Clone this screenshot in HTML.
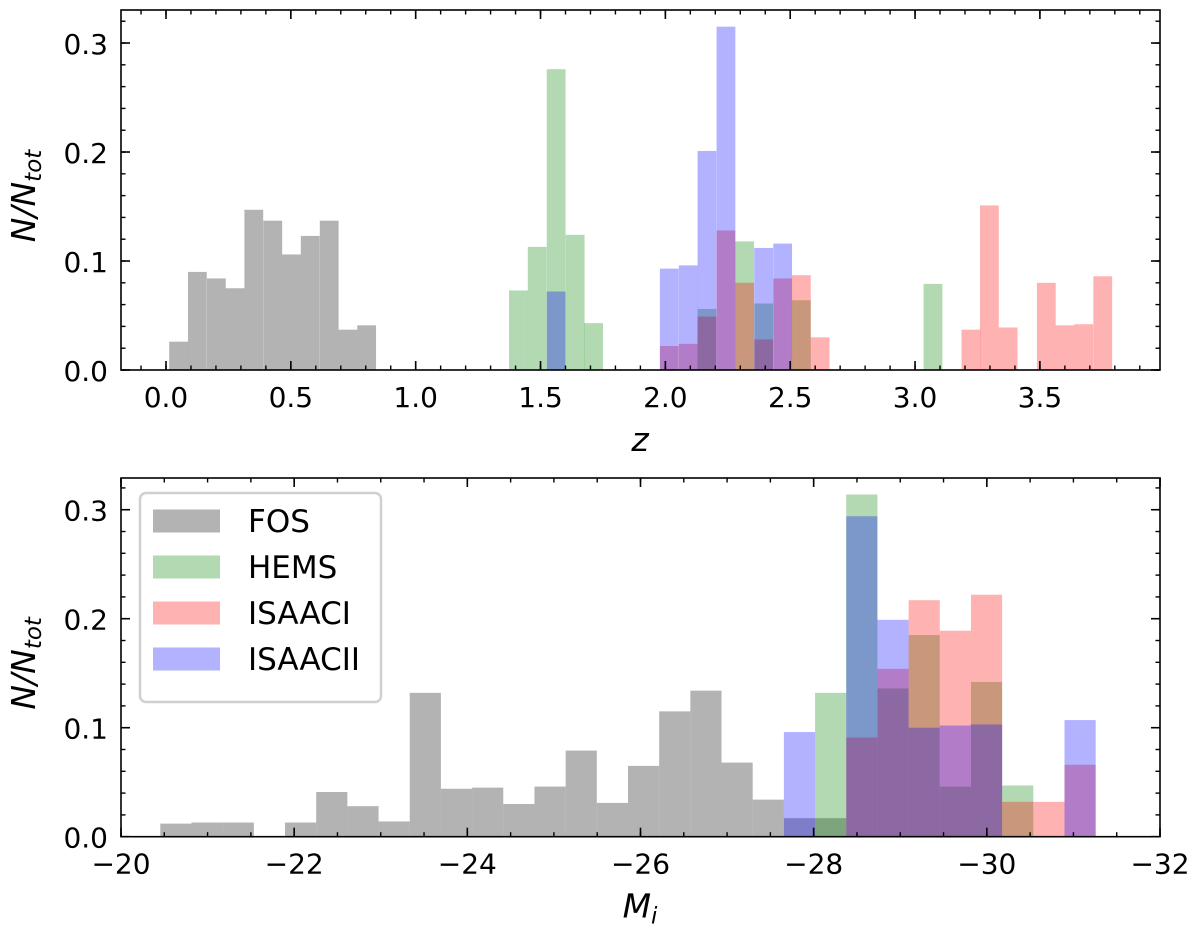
<!DOCTYPE html>
<html><head><meta charset="utf-8"><style>
body{margin:0;background:#fff;}
svg{display:block;font-family:"DejaVu Sans","Liberation Sans",sans-serif;}
</style></head><body>
<svg id="chart" width="1200" height="934" viewBox="0 0 1200 934" xmlns="http://www.w3.org/2000/svg"></svg>
<script>
// ---- Top panel data (redshift z) ----
const topBinWidth = 0.0753;
const fosZLeft = [0.013,0.088,0.164,0.239,0.314,0.390,0.465,0.540,0.616,0.691,0.766];
const fosZ = [0.026,0.090,0.084,0.075,0.147,0.137,0.106,0.123,0.137,0.037,0.041];
const hemsZLeft = [1.374,1.449,1.525,1.601,1.675,2.129,2.280,2.356,2.507,3.034];
const hemsZ = [0.073,0.113,0.276,0.124,0.043,0.056,0.118,0.061,0.064,0.079];
const isaac1ZLeft = [1.978,2.054,2.129,2.205,2.280,2.356,2.432,2.507,2.582,3.186,3.260,3.335,3.488,3.563,3.638,3.714];
const isaac1Z = [0.022,0.024,0.049,0.128,0.080,0.028,0.084,0.087,0.030,0.037,0.151,0.039,0.080,0.041,0.042,0.086];
const isaac2ZLeft = [1.525,1.978,2.054,2.129,2.205,2.356,2.432];
const isaac2Z = [0.072,0.093,0.096,0.201,0.315,0.112,0.116];
const topXTicks = [0.0,0.5,1.0,1.5,2.0,2.5,3.0,3.5];
const topXTickLabels = ["0.0","0.5","1.0","1.5","2.0","2.5","3.0","3.5"];
// ---- Bottom panel data (magnitude M_i), bin index from first edge ----
const botFirstEdge = -20.454;
const botBinWidth = 0.3601;
const fosMIdx = [0,1,2,4,5,6,7,8,9,10,11,12,13,14,15,16,17,18,19,20,21];
const fosM = [0.012,0.013,0.013,0.013,0.041,0.028,0.014,0.132,0.044,0.045,0.030,0.046,0.079,0.031,0.065,0.115,0.134,0.068,0.034,0.017,0.017];
const hemsMIdx = [21,22,23,24,25,26,27];
const hemsM = [0.132,0.314,0.136,0.185,0.046,0.142,0.047];
const isaac1MIdx = [22,23,24,25,26,27,28,29];
const isaac1M = [0.091,0.154,0.217,0.189,0.222,0.032,0.032,0.066];
const isaac2MIdx = [20,22,23,24,25,26,29];
const isaac2M = [0.096,0.294,0.199,0.100,0.102,0.103,0.107];
const botXTicks = [-20,-22,-24,-26,-28,-30,-32];
const botXTickLabels = ["\u221220","\u221222","\u221224","\u221226","\u221228","\u221230","\u221232"];
const yTicks = [0.0,0.1,0.2,0.3];
const yTickLabels = ["0.0","0.1","0.2","0.3"];

const svg = document.getElementById('chart');
const NS = 'http://www.w3.org/2000/svg';
function mk(tag, attrs, parent){const e=document.createElementNS(NS,tag);for(const k in attrs)e.setAttribute(k,attrs[k]);(parent||svg).appendChild(e);return e;}

const L=121, R=1160;
const FS=28, LFS=33;
const topP = {y0:370, y1:10, xmin:-0.1802, xmax:3.981, ymin:0, ymax:0.3303};
const botP = {y0:836.7, y1:478, xmin:-20, xmax:-32, ymin:0, ymax:0.3291};
function xs(p,v){return L+(v-p.xmin)/(p.xmax-p.xmin)*(R-L);}
function ys(p,v){return p.y0-(v-p.ymin)/(p.ymax-p.ymin)*(p.y0-p.y1);}

const colors={fos:['#808080',0.6],hems:['#008000',0.3],isaac1:['#ff0000',0.3],isaac2:['#0000ff',0.3]};

function drawBars(p, lefts, vals, width, key, name){
  const g=mk('g',{});
  
  
  for(let i=0;i<vals.length;i++){
    if(!vals[i])continue;
    const xa=xs(p,lefts[i]), xb=xs(p,lefts[i]+width);
    const yt=ys(p,vals[i]);
    const r=mk('rect',{x:Math.min(xa,xb),y:yt,width:Math.abs(xb-xa),height:p.y0-yt,fill:colors[key][0],'fill-opacity':colors[key][1]},g);
    
    
  }
}
function drawAxes(p, majors, majorLabels, minorStep, xlabelText, xlabelSub, panelName){
  const g=mk('g',{});
  
  
  mk('rect',{x:L,y:p.y1,width:R-L,height:p.y0-p.y1,fill:'none',stroke:'#000','stroke-width':1.6},g);
  const lo=Math.min(p.xmin,p.xmax), hi=Math.max(p.xmin,p.xmax);
  for(let v=Math.ceil(lo/minorStep)*minorStep; v<=hi+1e-9; v+=minorStep){
    const x=xs(p,v);
    mk('line',{x1:x,x2:x,y1:p.y0,y2:p.y0-4.5,stroke:'#000','stroke-width':1.4},g);
    mk('line',{x1:x,x2:x,y1:p.y1,y2:p.y1+4.5,stroke:'#000','stroke-width':1.4},g);
  }
  majors.forEach((v,i)=>{
    const x=xs(p,v);
    mk('line',{x1:x,x2:x,y1:p.y0,y2:p.y0-9,stroke:'#000','stroke-width':1.6},g);
    mk('line',{x1:x,x2:x,y1:p.y1,y2:p.y1+9,stroke:'#000','stroke-width':1.6},g);
    const t=mk('text',{x:x,y:p.y0+37,'font-size':FS,'text-anchor':'middle',fill:'#000'},g);
    t.textContent=majorLabels[i];
    
    
  });
  for(let v=0; v<=p.ymax+1e-9; v+=0.02){
    const y=ys(p,v);
    mk('line',{x1:L,x2:L+4.5,y1:y,y2:y,stroke:'#000','stroke-width':1.4},g);
    mk('line',{x1:R,x2:R-4.5,y1:y,y2:y,stroke:'#000','stroke-width':1.4},g);
  }
  yTicks.forEach((v,i)=>{
    const y=ys(p,v);
    mk('line',{x1:L,x2:L+9,y1:y,y2:y,stroke:'#000','stroke-width':1.6},g);
    mk('line',{x1:R,x2:R-9,y1:y,y2:y,stroke:'#000','stroke-width':1.6},g);
    const t=mk('text',{x:L-13,y:y+11,'font-size':FS,'text-anchor':'end',fill:'#000'},g);
    t.textContent=yTickLabels[i];
    
    
  });
  const xl=mk('text',{x:640,y:p.y0+81,'font-size':LFS,'font-style':'italic','text-anchor':'middle',fill:'#000'},g);
  xl.textContent=xlabelText;
  if(xlabelSub){const s=mk('tspan',{'font-size':23,dy:6},xl);s.textContent=xlabelSub;}
  
  
  const cy=(p.y0+p.y1)/2+6;
  const yl=mk('text',{x:0,y:0,'font-size':LFS,'font-style':'italic','text-anchor':'middle',fill:'#000',transform:`translate(35 ${cy}) rotate(-90)`},g);
  yl.textContent='N/N';
  const s2=mk('tspan',{'font-size':23,dy:6},yl);s2.textContent='tot';
  
  
}

drawBars(topP,fosZLeft,fosZ,topBinWidth,'fos','top-fos');
drawBars(topP,hemsZLeft,hemsZ,topBinWidth,'hems','top-hems');
drawBars(topP,isaac1ZLeft,isaac1Z,topBinWidth,'isaac1','top-isaaci');
drawBars(topP,isaac2ZLeft,isaac2Z,topBinWidth,'isaac2','top-isaacii');
drawAxes(topP,topXTicks,topXTickLabels,0.1,'z',null,'top-panel');

const toLeft = idx => idx.map(i=>botFirstEdge - i*botBinWidth);
drawBars(botP,toLeft(fosMIdx),fosM,-botBinWidth,'fos','bottom-fos');
drawBars(botP,toLeft(hemsMIdx),hemsM,-botBinWidth,'hems','bottom-hems');
drawBars(botP,toLeft(isaac1MIdx),isaac1M,-botBinWidth,'isaac1','bottom-isaaci');
drawBars(botP,toLeft(isaac2MIdx),isaac2M,-botBinWidth,'isaac2','bottom-isaacii');
drawAxes(botP,botXTicks,botXTickLabels,0.5,'M','i','bottom-panel');

const lg=mk('g',{});


mk('rect',{x:140,y:493,width:241,height:209,rx:6,fill:'#fff','fill-opacity':0.8,stroke:'#d0d0d0','stroke-width':2.5},lg);
const legNames=['FOS','HEMS','ISAACI','ISAACII'];
const legKeys=['fos','hems','isaac1','isaac2'];
legNames.forEach((n,i)=>{
  const y=521+i*46;
  const e=mk('g',{},lg);
  
  
  mk('rect',{x:153,y:y-11.5,width:67,height:23,fill:colors[legKeys[i]][0],'fill-opacity':colors[legKeys[i]][1]},e);
  const t=mk('text',{x:248,y:y+11,'font-size':31,fill:'#000'},e);
  t.textContent=n;
});
</script>
</body></html>
